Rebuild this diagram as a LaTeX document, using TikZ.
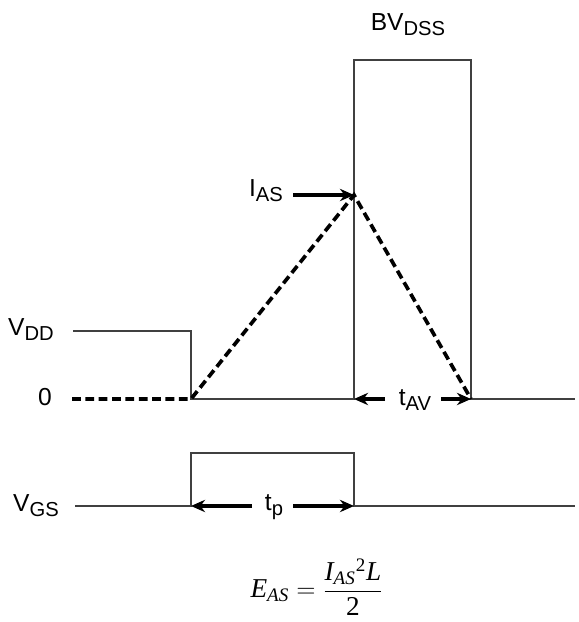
\documentclass[tikz,border=0pt]{standalone}
\usepackage{amsmath}
\usepackage{fontspec}
\setmainfont{Liberation Sans}
\newfontfamily\timesfont{Liberation Serif}
\usetikzlibrary{arrows.meta}
\newcommand{\lowtxt}[1]{\raisebox{-0.38ex}{\fontsize{11.5}{12}\selectfont #1}}

\begin{document}
\begin{tikzpicture}[
  wave/.style ={draw=black!75, line width=0.75pt},
  ramp/.style ={draw=black, dash pattern=on 5pt off 2.6pt, line width=2.1pt},
  dim/.style  ={draw=black, line width=2pt, -{Stealth[length=8pt,width=7pt]}},
  lbl/.style  ={font=\fontsize{14}{16}\selectfont, inner sep=1pt}]

  \useasboundingbox (0,0) rectangle (11.58,12.44);

  % ---------------- key points of the drain waveform ----------------
  \coordinate (vddl)  at (1.46,5.82);
  \coordinate (vddr)  at (3.82,5.82);
  \coordinate (zerol) at (1.44,4.46);
  \coordinate (sw)    at (3.82,4.46);
  \coordinate (peak)  at (7.08,8.54);
  \coordinate (bvbl)  at (7.08,4.46);
  \coordinate (bvtl)  at (7.08,11.24);
  \coordinate (bvtr)  at (9.42,11.24);
  \coordinate (bvbr)  at (9.42,4.46);
  \coordinate (zeror) at (11.50,4.46);

  % ---------------- drain voltage / current ----------------
  \draw[wave] (vddl) -- (vddr) -- (sw) -- (bvbl) -- (bvtl) -- (bvtr) -- (bvbr) -- (zeror);
  \draw[ramp] (zerol) -- (sw) -- (peak) -- (bvbr);
  \node[lbl] (vdd)  at (0.62,5.84){V\lowtxt{DD}};
  \node[lbl] (zero) at (0.90,4.50){0};
  \node[lbl] (bv)   at (8.16,11.94){BV\lowtxt{DSS}};

  % I_AS pointer
  \node[lbl] (ias) at (5.32,8.62){I\lowtxt{AS}};
  \coordinate (iastail) at (5.86,8.54);
  \draw[dim] (iastail) -- (peak);

  % avalanche time
  \node[lbl] (tav) at (8.30,4.44){t\lowtxt{AV}};
  \coordinate (tavl) at (7.70,4.46);
  \coordinate (tavr) at (8.82,4.46);
  \draw[dim] (tavl) -- (bvbl);
  \draw[dim] (tavr) -- (bvbr);

  % ---------------- gate drive ----------------
  \coordinate (gsl)  at (1.50,2.32);
  \coordinate (gon)  at (3.82,2.32);
  \coordinate (gont) at (3.82,3.38);
  \coordinate (gofft)at (7.08,3.38);
  \coordinate (goff) at (7.08,2.32);
  \coordinate (gsr)  at (11.50,2.32);
  \draw[wave] (gsl) -- (gon) -- (gont) -- (gofft) -- (goff) -- (gsr);
  \node[lbl] (vgs) at (0.72,2.32){V\lowtxt{GS}};

  \node[lbl] (tp) at (5.48,2.30){t\lowtxt{p}};
  \coordinate (tpl) at (5.04,2.32);
  \coordinate (tpr) at (5.86,2.32);
  \draw[dim] (tpl) -- (gon);
  \draw[dim] (tpr) -- (goff);

  % ---------------- energy ----------------
  \node[font=\timesfont\fontsize{15.5}{18}\selectfont] (eas) at (6.34,0.70)
    {$\textit{E}_{\textit{AS}} = \dfrac{\textit{I}_{\textit{AS}}{}^{\textup{2}}\textit{L}}{\textup{2}}$};
\end{tikzpicture}
\end{document}
